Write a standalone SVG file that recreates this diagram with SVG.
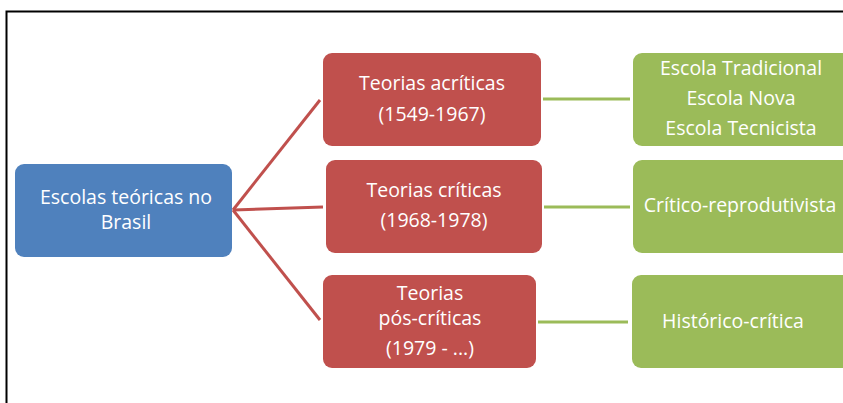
<svg xmlns="http://www.w3.org/2000/svg" width="843" height="403" viewBox="0 0 843 403">
<style>
.blue{fill:#4F81BD}
.red{fill:#C0504D}
.green{fill:#9BBB59}
.t{font-family:"Open Sans","Liberation Sans",sans-serif;font-size:19.5px;fill:#FFFFFF;text-anchor:middle}
.cr{stroke:#C0504D;stroke-width:3;fill:none}
.cg{stroke:#9BBB59;stroke-width:3;fill:none}
</style>
<rect width="843" height="403" fill="#FFFFFF"/>
<path d="M6.5 403 V11.5 H843" fill="none" stroke="#000" stroke-width="2"/>
<g id="connectors">
<line class="cr" x1="233" y1="210" x2="320" y2="100"/>
<line class="cr" x1="233" y1="210" x2="323" y2="207"/>
<line class="cr" x1="233" y1="210" x2="320" y2="320"/>
<line class="cg" x1="543" y1="99" x2="630" y2="99"/>
<line class="cg" x1="544" y1="207" x2="630" y2="207"/>
<line class="cg" x1="538" y1="322" x2="628" y2="322"/>
</g>
<g id="n-escolas">
<rect class="blue" x="15" y="164" width="217" height="93" rx="9"/>
<text class="t" x="126" y="204">Escolas teóricas no</text>
<text class="t" x="126" y="229">Brasil</text>
</g>
<g id="n-acriticas">
<rect class="red" x="323" y="53" width="218" height="93" rx="9"/>
<text class="t" x="432" y="90">Teorias acríticas</text>
<text class="t" x="432" y="121">(1549-1967)</text>
</g>
<g id="n-criticas">
<rect class="red" x="326" y="160" width="216" height="93" rx="9"/>
<text class="t" x="434" y="197">Teorias críticas</text>
<text class="t" x="434" y="227">(1968-1978)</text>
</g>
<g id="n-poscriticas">
<rect class="red" x="323" y="275" width="213" height="93" rx="9"/>
<text class="t" x="430" y="300">Teorias</text>
<text class="t" x="430" y="325">pós-críticas</text>
<text class="t" x="430" y="355">(1979 - ...)</text>
</g>
<g id="n-tradicional">
<rect class="green" x="633" y="53" width="230" height="93" rx="9"/>
<text class="t" x="741" y="75">Escola Tradicional</text>
<text class="t" x="741" y="105">Escola Nova</text>
<text class="t" x="741" y="135">Escola Tecnicista</text>
</g>
<g id="n-reprodutivista">
<rect class="green" x="633" y="160" width="230" height="93" rx="9"/>
<text class="t" x="740" y="212">Crítico-reprodutivista</text>
</g>
<g id="n-historico">
<rect class="green" x="632" y="275" width="230" height="93" rx="9"/>
<text class="t" x="733" y="328">Histórico-crítica</text>
</g>
</svg>
